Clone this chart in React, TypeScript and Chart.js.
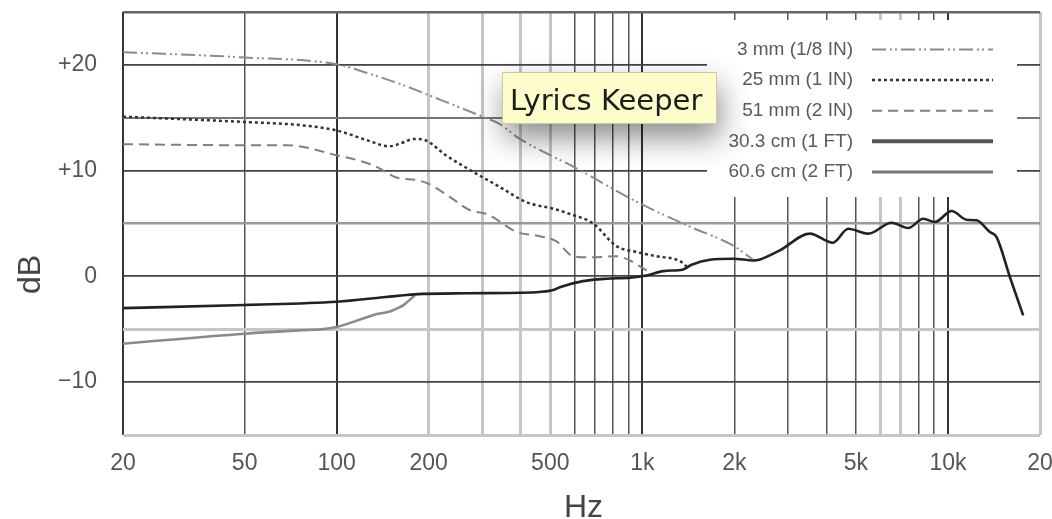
import { useEffect, useRef } from "react";
import { Chart, registerables } from "chart.js";

Chart.register(...registerables);

// ---------- data ----------
const seriesLabels = ["3 mm (1/8 IN)", "25 mm (1 IN)", "51 mm (2 IN)", "30.3 cm (1 FT)", "60.6 cm (2 FT)"];

const freq3mm = [20, 50, 100, 130, 161, 223, 300, 342, 388, 610, 982, 1432, 1984, 2300];
const db3mm = [21.2, 20.7, 20.05, 19.1, 18.2, 16.6, 15.1, 14.4, 13.2, 10.2, 6.9, 4.7, 2.9, 1.6];

const freq25mm = [20, 50, 76, 100, 125, 149, 161, 180, 194, 229, 287, 342, 419, 511, 580, 690, 824, 958, 1114, 1327, 1400];
const db25mm = [15.1, 14.6, 14.3, 13.8, 12.9, 12.3, 12.55, 13.0, 12.9, 11.4, 9.7, 8.45, 7.0, 6.4, 5.9, 5.0, 2.85, 2.3, 1.9, 1.45, 0.9];

const freq51mm = [20, 50, 69, 100, 132, 157, 183, 200, 235, 273, 310, 388, 462, 524, 594, 674, 824, 911, 1007, 1060];
const db51mm = [12.5, 12.4, 12.4, 11.45, 10.5, 9.35, 9.1, 8.75, 7.5, 6.25, 5.9, 4.2, 3.8, 3.3, 1.9, 1.8, 1.9, 1.5, 0.75, 0.35];

const freq1ft = [20, 50, 100, 145, 180, 266, 450, 511, 540, 640, 764, 911, 1033, 1171, 1361, 1450, 1664, 1983, 2306, 2426, 2818, 3532, 4200, 4718, 5484, 6538, 7414, 8300, 9060, 10280, 11500, 12400, 13710, 14420, 15940, 17620];
const db1ft = [-3.0, -2.7, -2.4, -1.95, -1.7, -1.6, -1.5, -1.3, -1.0, -0.45, -0.22, -0.13, 0.09, 0.5, 0.66, 1.1, 1.58, 1.67, 1.51, 1.6, 2.46, 4.04, 3.18, 4.5, 4.04, 5.07, 4.57, 5.45, 5.14, 6.18, 5.36, 5.3, 4.19, 3.72, -0.06, -3.69];

const freq2ft = [20, 50, 76, 89, 100, 117, 134, 148, 161, 165, 180];
const db2ft = [-6.37, -5.42, -5.1, -5.0, -4.79, -4.16, -3.6, -3.35, -2.9, -2.74, -1.8];

const xTickValues = [20, 50, 100, 200, 300, 400, 500, 600, 700, 800, 900, 1000, 2000, 3000, 4000, 5000, 6000, 7000, 8000, 9000, 10000, 20000];
const xTickLabels: Record<number, string> = { 20: "20", 50: "50", 100: "100", 200: "200", 500: "500", 1000: "1k", 2000: "2k", 5000: "5k", 10000: "10k", 20000: "20" };

const yTickValues = [-15, -10, -5, 0, 5, 10, 15, 20, 25];
const yTickLabels: Record<number, string> = { 20: "+20", 10: "+10", 0: "0", [-10]: "−10" };

// ---------- styling helpers ----------
const FONT = "'Liberation Sans', Arial, Helvetica, sans-serif";

function xGrid(v: number) {
  if ([200, 300, 400, 500, 6000, 7000, 20000].includes(v)) return { c: "#c6c6c6", w: 3 };
  if ([20, 100, 1000, 10000].includes(v)) return { c: "#333333", w: 2 };
  return { c: "#555555", w: 1.5 };
}
function yGrid(v: number) {
  if (v === -5 || v === -15) return { c: "#c6c6c6", w: 3 };
  if (v === 5) return { c: "#9a9a9a", w: 2.5 };
  if (v === 15) return { c: "#777777", w: 2 };
  if (v === 25) return { c: "#666666", w: 2.5 };
  return { c: "#444444", w: 1.8 };
}

const pts = (f: number[], d: number[]) => f.map((x, i) => ({ x, y: d[i] }));

const decorPlugin = {
  id: "decor",
  beforeDatasetsDraw(chart: any) {
    const { ctx, chartArea: a } = chart;
    ctx.save();
    ctx.fillStyle = "#ffffff";
    ctx.fillRect(a.right - 333, a.top + 8, 310, 177);
    ctx.restore();
  },
  afterDatasetsDraw(chart: any) {
    const { ctx, chartArea: a } = chart;
    ctx.save();
    chart.data.datasets.forEach((ds: any, i: number) => {
      const y = a.top + 37.5 + i * 30.6;
      ctx.font = `19px ${FONT}`;
      ctx.fillStyle = "#5a5a5a";
      ctx.textAlign = "right";
      ctx.textBaseline = "middle";
      ctx.fillText(ds.label, a.right - 187, y);
      ctx.beginPath();
      ctx.setLineDash(ds.borderDash || []);
      ctx.strokeStyle = ds.legendColor || ds.borderColor;
      ctx.lineWidth = ds.legendWidth || ds.borderWidth;
      ctx.moveTo(a.right - 168, y);
      ctx.lineTo(a.right - 47, y);
      ctx.stroke();
    });
    ctx.setLineDash([]);
    // axis titles
    ctx.fillStyle = "#444";
    ctx.font = `32px ${FONT}`;
    ctx.textAlign = "center";
    ctx.textBaseline = "alphabetic";
    ctx.fillText("Hz", (a.left + a.right) / 2 + 2, chart.height - 2);
    const y0 = chart.scales.y.getPixelForValue(0);
    ctx.translate(40, y0 - 2);
    ctx.rotate(-Math.PI / 2);
    ctx.fillText("dB", 0, 0);
    ctx.restore();
  },
  afterDraw(chart: any) {
    const { ctx } = chart;
    const bx = 502, by = 72, bw = 215, bh = 52;
    ctx.save();
    ctx.shadowColor = "rgba(0,0,0,0.45)";
    ctx.shadowBlur = 30;
    ctx.shadowOffsetY = 14;
    ctx.shadowOffsetX = 3;
    ctx.fillStyle = "#fdfdcb";
    ctx.fillRect(bx, by, bw, bh);
    ctx.restore();
    ctx.save();
    ctx.strokeStyle = "rgba(170,170,130,0.6)";
    ctx.lineWidth = 1;
    ctx.strokeRect(bx + 0.5, by + 0.5, bw - 1, bh - 1);
    ctx.font = "29px 'DejaVu Sans', sans-serif";
    ctx.fillStyle = "#1d1d1d";
    ctx.textAlign = "left";
    ctx.textBaseline = "alphabetic";
    ctx.fillText("Lyrics Keeper", bx + 8, by + 38);
    ctx.restore();
  },
};

export default function App() {
  const ref = useRef<HTMLCanvasElement>(null);
  useEffect(() => {
    document.body.style.margin = "0";
    const canvas = ref.current!;
    const common = { pointRadius: 0, fill: false, cubicInterpolationMode: "monotone" as const };
    const chart = new Chart(canvas, {
      type: "line",
      data: {
        datasets: [
          { ...common, label: seriesLabels[0], data: pts(freq3mm, db3mm), borderColor: "#8c8c8c", borderWidth: 2, borderDash: [14, 4, 2, 3, 2, 4] },
          { ...common, label: seriesLabels[1], data: pts(freq25mm, db25mm), borderColor: "#333333", borderWidth: 2.5, borderDash: [3, 3] },
          { ...common, label: seriesLabels[2], data: pts(freq51mm, db51mm), borderColor: "#808080", borderWidth: 2, borderDash: [10, 6] },
          { ...common, label: seriesLabels[3], data: pts(freq1ft, db1ft), borderColor: "#222222", borderWidth: 2.6, legendColor: "#555555", legendWidth: 4 } as any,
          { ...common, label: seriesLabels[4], data: pts(freq2ft, db2ft), borderColor: "#8a8a8a", borderWidth: 2.6, legendColor: "#777777", legendWidth: 3 } as any,
        ],
      },
      options: {
        responsive: false,
        animation: false,
        events: [],
        layout: { padding: { top: 12, right: 12, left: 0, bottom: 0 } },
        plugins: { legend: { display: false }, tooltip: { enabled: false }, title: { display: false } },
        scales: {
          x: {
            type: "logarithmic",
            min: 20,
            max: 20000,
            afterBuildTicks: (s: any) => {
              s.ticks = xTickValues.map((v) => ({ value: v }));
            },
            afterFit: (s: any) => {
              s.height = 84;
              s.paddingLeft = 0;
              s.paddingRight = 0;
            },
            ticks: {
              autoSkip: false,
              maxRotation: 0,
              minRotation: 0,
              padding: 15,
              color: "#555",
              font: { family: FONT, size: 23 },
              callback: (v: any) => xTickLabels[Number(v)] ?? "",
            },
            grid: {
              drawTicks: false,
              color: (c: any) => xGrid(c.tick?.value).c,
              lineWidth: (c: any) => xGrid(c.tick?.value).w,
            },
            border: { display: false },
          },
          y: {
            type: "linear",
            min: -15,
            max: 25,
            afterBuildTicks: (s: any) => {
              s.ticks = yTickValues.map((v) => ({ value: v }));
            },
            afterFit: (s: any) => {
              s.width = 123;
              s.paddingTop = 0;
              s.paddingBottom = 0;
            },
            ticks: {
              autoSkip: false,
              padding: 26,
              color: "#555",
              font: { family: FONT, size: 23 },
              callback: (v: any) => yTickLabels[Number(v)] ?? "",
            },
            grid: {
              drawTicks: false,
              color: (c: any) => yGrid(c.tick?.value).c,
              lineWidth: (c: any) => yGrid(c.tick?.value).w,
            },
            border: { display: false },
          },
        },
      },
      plugins: [decorPlugin],
    });
    return () => chart.destroy();
  }, []);
  return (
    <div style={{ position: "absolute", left: 0, top: 0, width: 1052, height: 519, background: "#fff" }}>
      <canvas ref={ref} width={1052} height={519} style={{ display: "block" }} />
    </div>
  );
}
